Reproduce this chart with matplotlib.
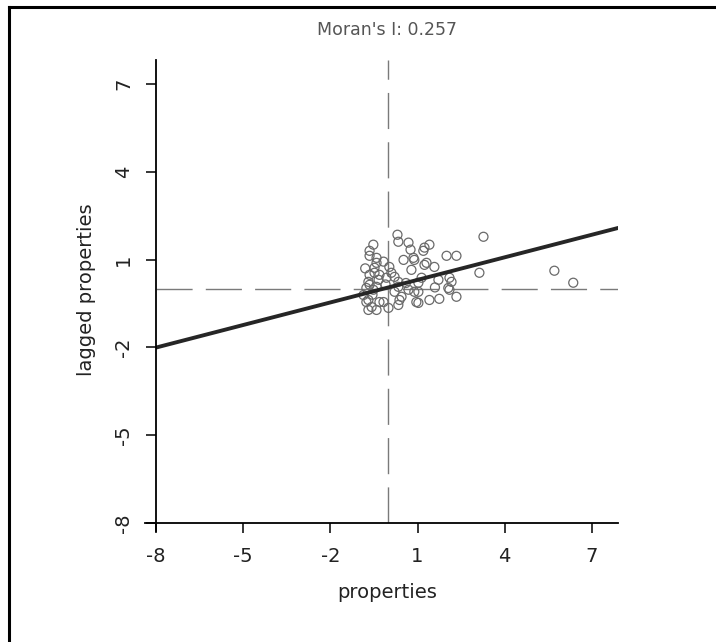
import matplotlib
matplotlib.use("Agg")
import matplotlib.pyplot as plt
from matplotlib.lines import Line2D

# values
prop_x = [0.31, 3.27, -0.52, -0.65, 0.34, 0.69, 0.76, 1.41, 1.20, 2.00,
          2.34, -0.65, -0.41, -0.17, 0.03, 0.52, 0.89, 1.31, 1.58, 0.79,
          -0.48, -0.69, -0.34, -0.07, 0.21, 1.14, 1.72, 2.17, 3.13, -0.76,
          -0.52, 0.34, 0.69, 1.03, 2.10, -0.69, -0.58, -0.17, 0.00, 0.38,
          1.03, 1.41, 1.75, 2.34, 5.71, 6.36, -0.41, -0.65, -0.48, -0.31,
          -0.65, -0.41, -0.76, -0.31, -0.69, -0.41, -0.86, 1.24, 0.86, 1.24,
          0.34, 1.03, 0.21, 0.45, 0.89, 0.96, 0.34, 2.10, 2.06, -0.55,
          -0.10, 0.10, 1.60, -0.80, 0.60]
lag_y = [1.85, 1.78, 1.51, 1.30, 1.61, 1.58, 1.34, 1.51, 1.30, 1.13,
         1.13, 1.13, 0.89, 0.93, 0.75, 0.99, 0.99, 0.89, 0.75, 0.65,
         0.55, 0.24, 0.31, 0.38, 0.41, 0.38, 0.31, 0.24, 0.55, 0.03,
         -0.03, 0.07, -0.03, -0.10, -0.03, -0.38, -0.62, -0.45, -0.65, -0.38,
         -0.48, -0.38, -0.34, -0.27, 0.62, 0.21, 1.06, 0.48, 0.72, 0.48,
         0.14, 0.07, -0.45, -0.45, -0.72, -0.72, -0.21, 1.41, 1.06, 0.82,
         0.24, 0.21, -0.10, -0.27, -0.10, -0.45, -0.55, 0.38, 0.03, -0.20,
         0.15, 0.55, 0.05, 0.70, 0.20]
moran_i = 0.257
intercept = 0.05
x_mean = 0.0
y_mean = 0.0
tick_vals = [-8, -5, -2, 1, 4, 7]
x_lim = (-8, 7.9)
y_lim = (-8, 7.82)

W, H = 716, 642
fig = plt.figure(figsize=(W / 100, H / 100), dpi=100)
plt.rcParams['font.family'] = ['DejaVu Sans']

ax = fig.add_axes([156 / W, 1 - 523 / H, 462 / W, 463 / H])
ax.set_xlim(*x_lim)
ax.set_ylim(*y_lim)
for s in ax.spines.values():
    s.set_visible(False)

dash_kw = dict(color='#7a7a7a', linewidth=1.0, dashes=(26, 9.5))
ax.axvline(x_mean, **dash_kw)
ax.axhline(y_mean, **dash_kw)

ax.scatter(prop_x, lag_y, s=42, facecolors='none', edgecolors='#6a6a6a',
           linewidths=0.9, zorder=3)
ax.axline((0, intercept), slope=moran_i, color='#262626', linewidth=2.8, zorder=4)

# R style axis lines which overshoot the corner slightly
ax.plot([-8.38, x_lim[1]], [-8, -8], color='black', lw=1.3, clip_on=False, zorder=5)
ax.plot([-8, -8], [-8.27, y_lim[1]], color='black', lw=1.3, clip_on=False, zorder=5)

ax.set_xticks(tick_vals)
ax.set_yticks(tick_vals)
ax.set_xticklabels([str(v) for v in tick_vals])
ax.set_yticklabels([str(v) for v in tick_vals], rotation=90, va='center')
ax.tick_params(axis='both', length=7.5, width=1.1, color='black',
               labelsize=14, labelcolor='#222222')
ax.tick_params(axis='x', pad=10)
ax.tick_params(axis='y', pad=9)

fig.text(387 / W, 1 - 592 / H, 'properties', ha='center', va='center',
         fontsize=14, color='#222222')
fig.text(87 / W, 1 - 290 / H, 'lagged properties', ha='center', va='center',
         rotation=90, fontsize=14, color='#222222')
fig.text(387 / W, 1 - 30 / H, "Moran's I: 0.257", ha='center', va='center',
         fontsize=12.5, color='#555555')

# frame along top and left edge
fig.add_artist(Line2D([9 / W, 1.0], [1 - 7 / H, 1 - 7 / H], color='black', lw=2.2))
fig.add_artist(Line2D([9 / W, 9 / W], [0.0, 1 - 7 / H], color='black', lw=2.2))

fig.savefig('out.png', dpi=100)
